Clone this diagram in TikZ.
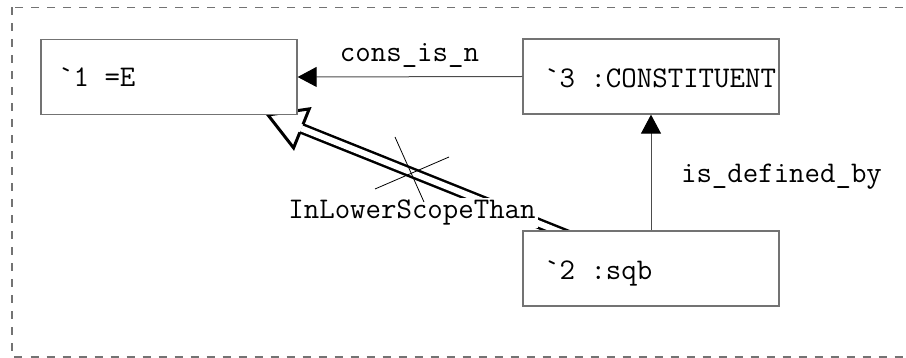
\documentclass[tikz,border=0pt]{standalone}
\usepackage{fontspec}
\usetikzlibrary{arrows.meta,calc,backgrounds}
\begin{document}
\begin{tikzpicture}[x=1pt,y=-1pt,
  boxst/.style={draw=black!55, fill=white, line width=1.3pt, minimum width=256pt, minimum height=75pt, inner sep=0pt},
  txt/.style={font=\ttfamily\fontsize{30}{34}\selectfont, inner sep=0pt},
  conn/.style={draw=black!70, line width=1pt, -{Triangle[length=19pt,width=20pt,color=black]}},
  shaft/.style={draw=black, line width=2.5pt, double=white, double distance=6pt},
  headst/.style={draw=black, fill=white, line width=3pt, line join=miter},
  crossst/.style={draw=black, line width=0.8pt},
  frame/.style={draw=black!55, line width=1.2pt, dash pattern=on 8pt off 8pt}
]
\clip (0,0) rectangle (906,358);
\draw[frame] (12,7.5) rectangle (940,357);

% boxes
\node[boxst] (b1) at (169,77) {};
\node[boxst] (b3) at (651,76.5) {};
\node[boxst] (b2) at (651,268.5) {};

% box texts
\node[txt, anchor=base west] (t1) at (58,87) {`1 =E};
\node[txt, anchor=base west, fill=white, inner xsep=1pt, text height=21pt, text depth=9pt] (t3) at (543,88) {`3 :CONSTITUENT};
\node[txt, anchor=base west] (t2) at (544,280) {`2 :sqb};

% connectors
\draw[conn] (b3.west) -- (b1.east);
\draw[conn] (b2.north) -- (b3.south);
\node[txt, anchor=base] (l1) at (409.5,62) {cons\_is\_n};
\node[txt, anchor=base] (l2) at (781.5,183) {is\_defined\_by};

% hollow double arrow
\coordinate (tip) at (268,115);
\coordinate (tail) at (575,238);
\coordinate (hb) at ($(tip)!36pt!(tail)$);
\begin{scope}[on background layer]
  \draw[shaft] (tail) -- (hb);
  \draw[headst] ($(hb)!4.25pt!90:(tip)$) -- ($(hb)!21pt!90:(tip)$) -- (tip)
     -- ($(hb)!21pt!-90:(tip)$) -- ($(hb)!4.25pt!-90:(tip)$);
\end{scope}
\node[txt, anchor=base, fill=white, inner sep=2pt] (l3) at (412,219) {InLowerScopeThan};

% cross
\coordinate (c1a) at (395,137);
\coordinate (c1b) at (424,202);
\coordinate (c2a) at (375,189);
\coordinate (c2b) at (449,157);
\draw[crossst] (c1a) -- (c1b);
\draw[crossst] (c2a) -- (c2b);
\end{tikzpicture}
\end{document}
